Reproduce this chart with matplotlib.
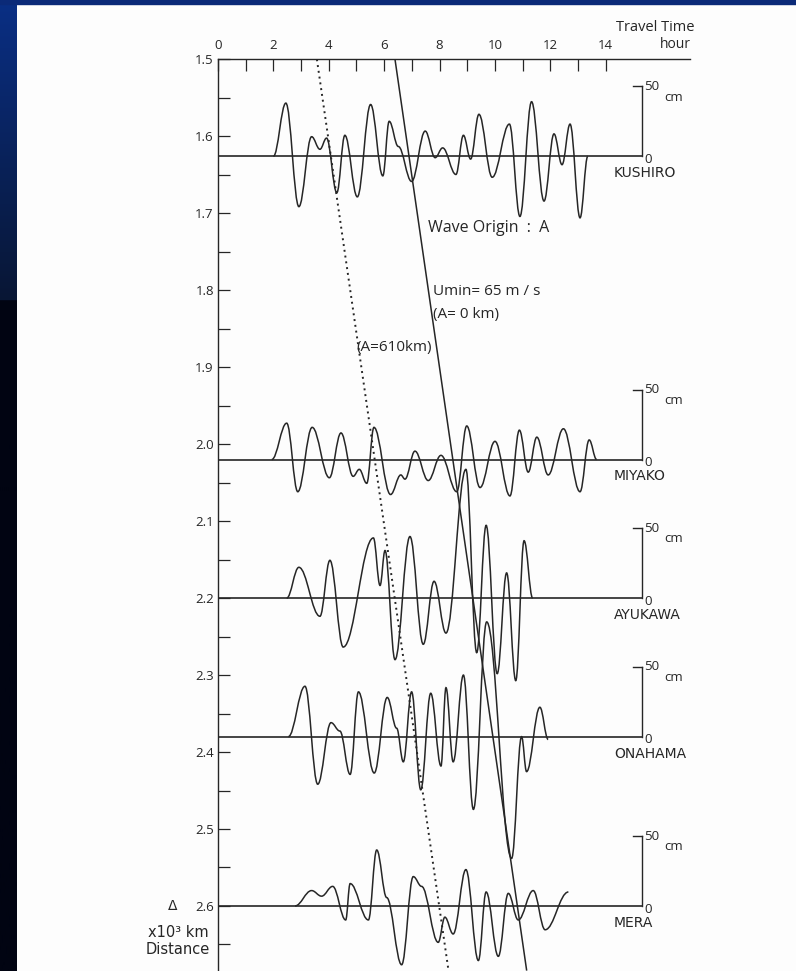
import numpy as np
import matplotlib
matplotlib.use('Agg')
from matplotlib import pyplot as plt
from matplotlib.path import Path
from matplotlib.patches import PathPatch, Rectangle
from matplotlib.ticker import FixedLocator

# station records: travel time (hour) and water level (cm) at the turning points
stations = ['KUSHIRO', 'MIYAKO', 'AYUKAWA', 'ONAHAMA', 'MERA']
base_dist = [1.626, 2.02, 2.2, 2.38, 2.6]   # x10^3 km

kushiro_t = [2.00, 2.45, 2.92, 3.38, 3.68, 3.92, 4.29, 4.58, 5.03, 5.51, 5.95, 6.18,
             6.51, 6.99, 7.48, 7.84, 8.11, 8.59, 8.86, 9.12, 9.42, 9.90, 10.52, 10.90,
             11.32, 11.77, 12.13, 12.42, 12.71, 13.07, 13.35]
kushiro_cm = [0, 38, -36, 14, 5, 13, -26, 15, -29, 37, -14, 25,
              7, -18, 18, -1, 6, -13, 15, -2, 30, -15, 23, -43,
              39, -32, 16, -6, 23, -44, 0]

miyako_t = [1.94, 2.48, 2.88, 3.40, 4.02, 4.44, 4.88, 5.10, 5.37, 5.63, 6.23, 6.60,
            6.75, 7.11, 7.59, 8.05, 8.62, 8.98, 9.46, 10.00, 10.54, 10.88, 11.20,
            11.51, 11.92, 12.47, 13.07, 13.40, 13.67]
miyako_cm = [0, 26, -23, 23, -13, 19, -12, -7, -17, 23, -25, -11,
             -14, 6, -15, 3, -23, 24, -20, 13, -26, 21, -9,
             16, -11, 22, -23, 14, 0]

ayukawa_t = [2.48, 2.92, 3.68, 4.04, 4.52, 5.61, 5.85, 6.03, 6.39, 6.93, 7.41, 7.80,
             8.23, 8.95, 9.34, 9.68, 10.08, 10.42, 10.75, 11.05, 11.36]
ayukawa_cm = [0, 22, -13, 27, -35, 43, 9, 34, -44, 44, -33, 12,
              -25, 92, -39, 52, -54, 18, -59, 41, 0]

onahama_t = [2.54, 3.14, 3.60, 4.08, 4.40, 4.77, 5.07, 5.64, 6.11, 6.45, 6.69, 6.99,
             7.32, 7.68, 8.05, 8.23, 8.49, 8.86, 9.22, 9.70, 10.60, 10.96, 11.14,
             11.62, 11.92]
onahama_cm = [0, 36, -34, 10, 4, -27, 32, -26, 28, 6, -18, 32,
              -38, 31, -21, 35, -18, 44, -52, 82, -87, 0, -25,
              21, -2]

mera_t = [2.78, 3.38, 3.74, 4.14, 4.61, 4.77, 5.43, 5.73, 6.09, 6.63, 7.05, 7.35,
          7.95, 8.19, 8.49, 8.95, 9.40, 9.68, 10.12, 10.48, 10.84, 11.38, 11.81, 12.65]
mera_cm = [0, 11, 7, 14, -10, 16, -10, 40, 6, -42, 21, 14,
           -26, -8, -20, 26, -39, 10, -36, 9, -10, 11, -17, 10]

traces_t = [kushiro_t, miyako_t, ayukawa_t, onahama_t, mera_t]
traces_cm = [kushiro_cm, miyako_cm, ayukawa_cm, onahama_cm, mera_cm]

# arrival lines: time (hour) at the top and bottom of the chart, distances
umin_t = [6.39, 11.14]
umin_d = [1.5, 2.683]
a610_t = [3.57, 8.31]
a610_d = [1.5, 2.681]

scale_cm = 50
cm_to_d = 0.0909 / 50     # 50 cm on the record = 0.0909 x10^3 km on the chart
t_end = 15.3              # right end of each base line / scale bar

ink = '#262626'
plt.rcParams['font.family'] = ['Open Sans', 'DejaVu Sans']
wide = ['DejaVu Sans']

fig = plt.figure(figsize=(7.96, 9.71), dpi=100)
fig.patch.set_facecolor('#fdfdfd')

# slide frame: dark strip on the left and thin band on top
side = fig.add_axes([0, 0, 17 / 796, 1])
yy = np.linspace(0, 1, 971)
c_top = np.array([0x0a, 0x2f, 0x85]) / 255
c_mid = np.array([0x08, 0x16, 0x34]) / 255
c_bot = np.array([0x01, 0x04, 0x12]) / 255
grad = np.zeros((971, 1, 3))
for i, v in enumerate(yy):
    if v < 0.31:
        f = v / 0.31
        grad[i, 0] = c_top * (1 - f) + c_mid * f
    else:
        grad[i, 0] = c_bot
side.imshow(grad, aspect='auto', extent=[0, 1, 1, 0])
side.axis('off')
fig.add_artist(Rectangle((0, 1 - 4 / 971), 1, 4 / 971, transform=fig.transFigure,
                         color='#0b2a78', zorder=5))

ax = fig.add_axes([218 / 796, 0, 472 / 796, (971 - 59.3) / 971])
ax.set_facecolor('none')
ax.set_xlim(0, 17.04)
ax.set_ylim(1.5 + (971 - 59.3) / 769.7, 1.5)

for s in ['right', 'bottom']:
    ax.spines[s].set_visible(False)
for s in ['left', 'top']:
    ax.spines[s].set_color(ink)
    ax.spines[s].set_linewidth(1.0)

ax.xaxis.tick_top()
ax.xaxis.set_major_locator(FixedLocator(range(0, 15, 2)))
ax.xaxis.set_minor_locator(FixedLocator(range(1, 14, 2)))
ax.yaxis.set_major_locator(FixedLocator(np.round(np.arange(1.5, 2.61, 0.1), 2)))
ax.yaxis.set_minor_locator(FixedLocator(np.round(np.arange(1.55, 2.66, 0.1), 2)))
ax.set_yticklabels(['%.1f' % v for v in np.arange(1.5, 2.61, 0.1)])
ax.tick_params(which='both', direction='in', length=8.4, width=0.9, color=ink,
               labelsize=9.5, labelcolor=ink)
ax.tick_params(axis='y', pad=3)
ax.tick_params(axis='x', pad=5)

# base lines and records
for name, base, tt, cc in zip(stations, base_dist, traces_t, traces_cm):
    ax.plot([0, t_end], [base, base], color=ink, lw=1.2)
    verts = [(tt[0], base - cc[0] * cm_to_d)]
    codes = [Path.MOVETO]
    for i in range(1, len(tt)):
        y0 = base - cc[i - 1] * cm_to_d
        y1 = base - cc[i] * cm_to_d
        h = (tt[i] - tt[i - 1]) * 0.38
        verts += [(tt[i - 1] + h, y0), (tt[i] - h, y1), (tt[i], y1)]
        codes += [Path.CURVE4] * 3
    ax.add_patch(PathPatch(Path(verts, codes), fill=False, ec=ink, lw=1.1))

    # amplitude scale bar
    top = base - scale_cm * cm_to_d
    ax.plot([t_end, t_end], [base, top], color=ink, lw=1.0)
    ax.plot([t_end - 0.33, t_end], [top, top], color=ink, lw=1.0)
    ax.text(t_end + 0.1, top, '50', fontsize=9.5, color=ink, ha='left', va='center')
    ax.text(t_end + 0.8, top + 0.014, 'cm', fontsize=9.5, color=ink, ha='left', va='center')
    ax.text(t_end + 0.1, base + 0.004, '0', fontsize=9.5, color=ink, ha='left', va='center')
    ax.text(t_end - 1.0, base + 0.022, name, fontsize=10, color=ink, ha='left',
            va='center', family=wide)

# arrival lines
ax.plot(umin_t, umin_d, color=ink, lw=1.1)
ax.plot(a610_t, a610_d, color=ink, lw=1.4, ls=(0, (1, 2)))

ax.text(7.58, 1.719, 'Wave Origin  :  A', fontsize=11.5, color=ink, va='center')
ax.text(7.76, 1.802, 'Umin= 65 m / s', fontsize=11, color=ink, va='center')
ax.text(7.76, 1.832, '(A= 0 km)', fontsize=11, color=ink, va='center')
ax.text(4.98, 1.874, '(A=610km)', fontsize=11, color=ink, va='center')

ax.annotate('Travel Time', xy=(15.8, 1.5), xytext=(0, 23), textcoords='offset points',
            ha='center', va='center', fontsize=10.5, color=ink, annotation_clip=False)
ax.annotate('hour', xy=(16.5, 1.5), xytext=(0, 11), textcoords='offset points',
            ha='center', va='center', fontsize=10, color=ink, annotation_clip=False)

ax.text(-1.65, 2.6, '\u0394', fontsize=10, color=ink, ha='center', va='center', family=wide)
ax.text(-0.35, 2.635, 'x10\u00b3 km', fontsize=10.5, color=ink, ha='right', va='center',
        family=wide)
ax.text(-0.3, 2.657, 'Distance', fontsize=10.5, color=ink, ha='right', va='center',
        family=wide)

fig.savefig('out.png', dpi=100, facecolor=fig.get_facecolor())
